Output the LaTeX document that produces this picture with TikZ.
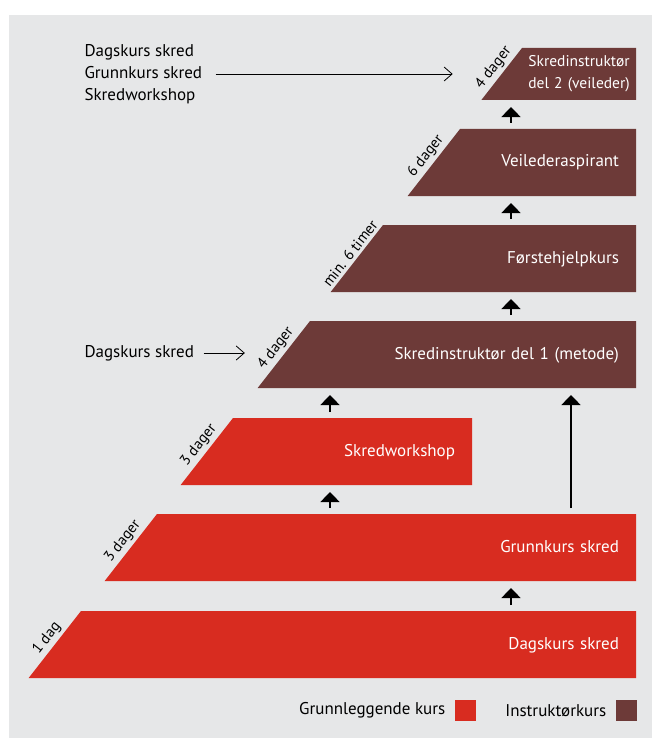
\documentclass[tikz,border=0pt]{standalone}
\usepackage{fontspec}
\setmainfont{PT Sans}
\usetikzlibrary{shapes.geometric, arrows.meta, calc, positioning}

\definecolor{grunnrod}{HTML}{D82C20}
\definecolor{instrbrun}{HTML}{6D3A38}
\definecolor{bakgrunn}{HTML}{E6E7E8}

\begin{document}
\begin{tikzpicture}[
			x=1pt, y=-1pt,
			font=\fontsize{17}{22}\selectfont,
			kurs/.style={
				trapezium,
				trapezium left angle=52,
				trapezium right angle=90,
				inner xsep=17pt,
				inner ysep=26pt,
				outer sep=0pt,
				text height=12pt,
				text depth=3pt,
				text=white,
				align=right,
				anchor=top right corner
			},
			grunn/.style={
				kurs,
				fill=grunnrod
			},
			instr/.style={
				kurs,
				fill=instrbrun
			},
			varighet/.style={
				rotate=52,
				anchor=south,
				inner sep=3pt,
				font=\fontsize{15}{18}\selectfont
			},
			pil/.style={
				line width=1.4pt,
				-{Triangle[width=19pt, length=10pt]},
				shorten <=6pt,
				shorten >=7pt
			},
			tynn/.style={
				line width=0.8pt,
				-{Straight Barb[width=14pt, length=8pt]}
			},
			rute/.style={
				minimum size=21pt,
				inner sep=0pt
			}
		]
			\useasboundingbox (0,0) rectangle (652,738);
			\fill[bakgrunn] (9,15) rectangle (652,738);

			% kursene
			\node[grunn, text width=521pt] (dag) at (636,611) {Dagskurs skred};
			\node[grunn, text width=445pt] (grunnkurs) at (636,514) {Grunnkurs skred};
			\node[grunn, text width=205pt] (workshop) at (472,418) {Skredworkshop};
			\node[instr, text width=292pt] (del1) at (636,321) {Skredinstruktør del 1 (metode)};
			\node[instr, text width=219pt] (forste) at (636,225) {Førstehjelpkurs};
			\node[instr, text width=142pt] (veil) at (636,129) {Veilederaspirant};
			\node[instr, text width=104pt, inner xsep=5pt, inner ysep=7.5pt, text height=11pt, text depth=26pt, align=center,
				font=\fontsize{15.5}{22}\selectfont] (del2) at (636,48) {Skredinstruktør\\del 2 (veileder)};

			% varighet
			\node[varighet] (dagtid) at ($(dag.bottom left corner)!0.5!(dag.top left corner)$) {1 dag};
			\node[varighet] (grunntid) at ($(grunnkurs.bottom left corner)!0.5!(grunnkurs.top left corner)$) {3 dager};
			\node[varighet] (worktid) at ($(workshop.bottom left corner)!0.5!(workshop.top left corner)$) {3 dager};
			\node[varighet] (del1tid) at ($(del1.bottom left corner)!0.5!(del1.top left corner)$) {4 dager};
			\node[varighet] (forstetid) at ($(forste.bottom left corner)!0.5!(forste.top left corner)$) {min. 6 timer};
			\node[varighet] (veiltid) at ($(veil.bottom left corner)!0.5!(veil.top left corner)$) {6 dager};
			\node[varighet] (del2tid) at ($(del2.bottom left corner)!0.5!(del2.top left corner)$) {4 dager};

			% forkunnskaper
			\node[align=left, anchor=west] (forkunn) at (81,74) {Dagskurs skred\\Grunnkurs skred\\Skredworkshop};
			\node[anchor=west] (dagforkunn) at (81,353) {Dagskurs skred};

			\draw[tynn] ([xshift=10pt]forkunn.east) -- ([xshift=-49pt]forkunn.east -| del2.left side);
			\draw[tynn] ([xshift=6pt]dagforkunn.east) -- ([xshift=-39pt]dagforkunn.east -| del1.left side);

			% piler
			\coordinate (midtakse) at (511,0);
			\coordinate (venstreakse) at (330,0);
			\coordinate (langakse) at (571,0);

			\draw[pil] (dag.north -| midtakse) -- (grunnkurs.south -| midtakse);
			\draw[pil] (grunnkurs.north -| venstreakse) -- (workshop.south -| venstreakse);
			\draw[pil] (workshop.north -| venstreakse) -- (del1.south -| venstreakse);
			\draw[pil] (grunnkurs.north -| langakse) -- (del1.south -| langakse);
			\draw[pil] (del1.north -| midtakse) -- (forste.south -| midtakse);
			\draw[pil] (forste.north -| midtakse) -- (veil.south -| midtakse);
			\draw[pil] (veil.north -| midtakse) -- (del2.south -| midtakse);

			% forklaring
			\node[rute, fill=grunnrod] (rodrute) at (465.5,710.5) {};
			\node[left=6pt of rodrute] (rodtekst) {Grunnleggende kurs};
			\node[rute, fill=instrbrun] (brunrute) at (626.5,710.5) {};
			\node[left=6pt of brunrute] (bruntekst) {Instruktørkurs};

		\end{tikzpicture}
\end{document}
